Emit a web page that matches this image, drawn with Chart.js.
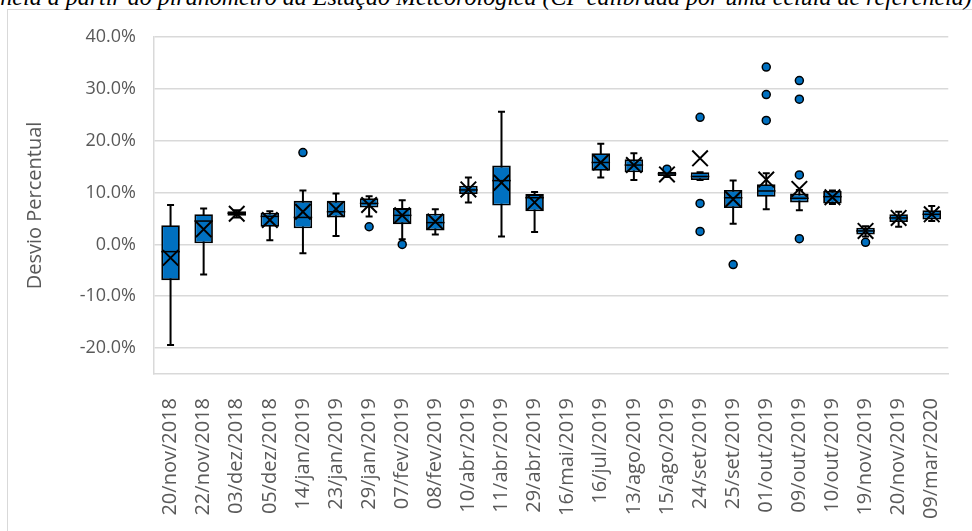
<!DOCTYPE html>
<html><head><meta charset="utf-8">
<script src="https://cdn.jsdelivr.net/npm/chart.js@4.4.1/dist/chart.umd.min.js"></script>
<style>
html,body{margin:0;padding:0;background:#fff;overflow:hidden;width:972px;height:531px;}
#frame{position:absolute;left:7px;top:9px;width:990px;height:560px;border:1px solid #d9d9d9;box-sizing:border-box;}
#ttl{position:absolute;top:-15px;left:0;white-space:nowrap;font-family:'Liberation Serif',serif;font-style:italic;font-size:24px;line-height:24px;color:#000;}
#wrap{position:absolute;left:0;top:0;width:972px;height:531px;}
</style></head>
<body>
<div id="frame"></div>
<div id="ttl"><span id="pre">Irradiâ</span>ncia a partir do piranômetro da Estação Meteorológica (CP calibrada por uma célula de referência)</div>
<div id="wrap"><canvas id="c" width="972" height="531"></canvas></div>
<script>
const categories = ['20/nov/2018','22/nov/2018','03/dez/2018','05/dez/2018','14/jan/2019','23/jan/2019','29/jan/2019','07/fev/2019','08/fev/2019','10/abr/2019','11/abr/2019','29/abr/2019','16/mai/2019','16/jul/2019','13/ago/2019','15/ago/2019','24/set/2019','25/set/2019','01/out/2019','09/out/2019','10/out/2019','19/nov/2019','20/nov/2019','09/mar/2020'];
const whiskerMin = [-19.4,-5.8,5.2,0.8,-1.7,1.6,5.4,1.0,1.9,8.1,1.5,2.4,null,12.9,12.4,13.0,12.4,4.0,6.8,6.6,7.8,1.5,3.4,4.5];
const q1 =         [-6.9,0.2,5.5,3.4,3.1,5.2,7.1,3.9,2.7,9.7,7.5,6.4,null,14.2,13.9,13.2,12.4,7.0,9.2,8.1,7.9,1.9,4.3,4.8];
const median =     [-1.4,4.5,6.0,5.4,5.2,6.3,7.9,5.6,4.2,10.5,12.3,9.0,null,15.8,15.3,13.6,13.1,9.0,10.3,8.9,9.2,2.6,5.1,5.8];
const q3 =         [3.7,5.8,6.4,6.1,8.4,8.4,8.9,7.0,5.9,11.3,15.2,9.7,null,17.6,16.4,14.0,13.9,10.5,11.6,9.8,10.3,3.2,5.8,6.6];
const whiskerMax = [7.6,6.9,6.6,6.4,10.4,9.8,9.3,8.5,6.8,12.9,25.6,10.1,null,19.4,17.6,14.2,13.9,12.3,13.7,10.5,10.4,3.5,6.3,7.4];
const mean =       [-2.6,2.9,5.9,4.7,6.3,6.8,7.6,5.6,4.4,10.6,11.9,8.1,null,15.8,15.3,13.5,16.6,8.7,12.5,10.7,9.1,2.6,5.1,5.8];
const outlierCats =   ['14/jan/2019','29/jan/2019','07/fev/2019','15/ago/2019','24/set/2019','24/set/2019','24/set/2019','25/set/2019','01/out/2019','01/out/2019','01/out/2019','09/out/2019','09/out/2019','09/out/2019','09/out/2019','19/nov/2019'];
const outlierValues = [17.7,3.4,0.0,14.5,24.5,7.9,2.5,-3.9,34.2,28.9,23.9,31.6,28.0,13.4,1.1,0.4];
const yTicks = [-20,-10,0,10,20,30,40];

const pre = document.getElementById('pre');
document.getElementById('ttl').style.left = (-pre.offsetWidth) + 'px';

const boxPlugin = {
  id: 'boxParts',
  beforeDatasetsDraw(chart) {
    const ctx = chart.ctx, y = chart.scales.y, meta = chart.getDatasetMeta(0);
    ctx.save();
    ctx.strokeStyle = '#000'; ctx.lineWidth = 2;
    meta.data.forEach((bar, i) => {
      if (whiskerMin[i] == null) return;
      const x = bar.x, yMin = y.getPixelForValue(whiskerMin[i]), yMax = y.getPixelForValue(whiskerMax[i]);
      ctx.beginPath();
      ctx.moveTo(x, yMin); ctx.lineTo(x, yMax);
      ctx.moveTo(x - 3.5, yMin); ctx.lineTo(x + 3.5, yMin);
      ctx.moveTo(x - 3.5, yMax); ctx.lineTo(x + 3.5, yMax);
      ctx.stroke();
    });
    ctx.restore();
  },
  afterDatasetDraw(chart, args) {
    if (args.index !== 0) return;
    const ctx = chart.ctx, y = chart.scales.y, meta = chart.getDatasetMeta(0);
    ctx.save();
    ctx.strokeStyle = '#000'; ctx.lineWidth = 1.5;
    meta.data.forEach((bar, i) => {
      if (median[i] == null) return;
      const ym = y.getPixelForValue(median[i]);
      ctx.beginPath();
      ctx.moveTo(bar.x - bar.width / 2, ym); ctx.lineTo(bar.x + bar.width / 2, ym);
      ctx.stroke();
    });
    ctx.restore();
  }
};

new Chart(document.getElementById('c'), {
  data: {
    labels: categories,
    datasets: [
      { type: 'bar', data: q1.map((v, i) => v == null ? null : [v, q3[i]]),
        backgroundColor: '#0070C0', borderColor: '#000', borderWidth: 1.8, borderSkipped: false,
        barPercentage: 0.56, categoryPercentage: 1, order: 3 },
      { type: 'line', data: mean, showLine: false, pointStyle: 'crossRot', pointRadius: 11,
        pointBorderWidth: 2, pointBorderColor: '#000', pointBackgroundColor: '#000', order: 1 },
      { type: 'line', data: outlierValues.map((v, i) => ({ x: outlierCats[i], y: v })), showLine: false,
        pointStyle: 'circle', pointRadius: 4, pointBorderWidth: 1.5, pointBorderColor: '#000',
        pointBackgroundColor: '#0070C0', order: 2 }
    ]
  },
  options: {
    responsive: false, animation: false, devicePixelRatio: 1,
    layout: { padding: { top: 37, right: 6, left: 0, bottom: 0 } },
    plugins: { legend: { display: false }, tooltip: { enabled: false } },
    scales: {
      x: {
        type: 'category', offset: true,
        grid: { display: false },
        border: { display: true, color: '#d9d9d9', width: 1.5 },
        ticks: { minRotation: 90, maxRotation: 90, padding: 16, color: '#595959', autoSkip: false,
                 font: { family: 'Open Sans', size: 20 } },
        afterFit(s) { s.height = 157; }
      },
      y: {
        min: -25, max: 40,
        afterBuildTicks(s) { s.ticks = yTicks.map(v => ({ value: v })); },
        grid: { color: '#d9d9d9', lineWidth: 1.5, drawTicks: false },
        border: { display: true, color: '#d9d9d9', width: 1.5 },
        ticks: { padding: 18, color: '#595959', font: { family: 'Open Sans', size: 18 },
                 callback: v => v.toFixed(1) + '%' },
        title: { display: true, text: 'Desvio Percentual', color: '#595959',
                 font: { family: 'Open Sans', size: 20 }, padding: { top: 23, bottom: 0 } },
        afterFit(s) { s.width = 154; }
      }
    }
  },
  plugins: [boxPlugin]
});
</script>
</body></html>
